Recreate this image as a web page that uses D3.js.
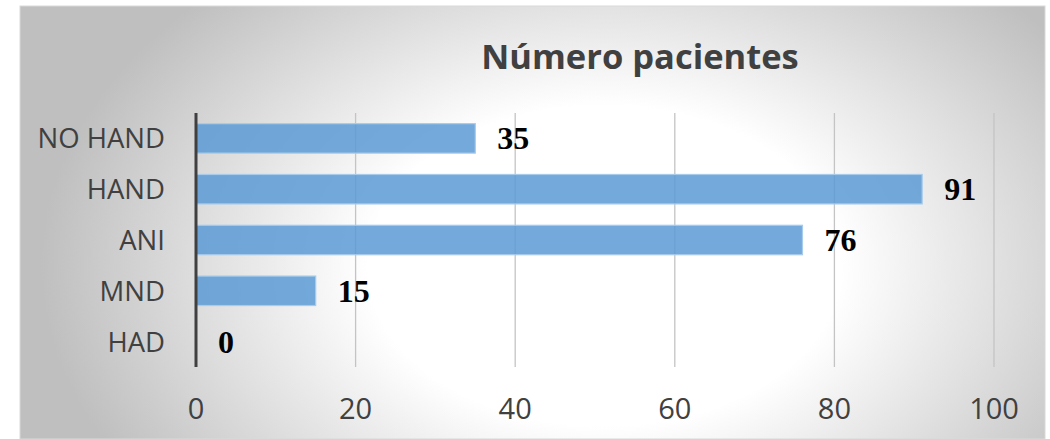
<!DOCTYPE html>
<html>
<head>
<meta charset="utf-8">
<script src="https://cdn.jsdelivr.net/npm/d3@7"></script>
<style>
  html, body { margin: 0; padding: 0; background: #ffffff; }
  svg { display: block; }
</style>
</head>
<body>
<svg id="chart" width="1050" height="439"></svg>
<script>
const categories = ["NO HAND", "HAND", "ANI", "MND", "HAD"];
const values = [35, 91, 76, 15, 0];
const xTicks = [0, 20, 40, 60, 80, 100];
const chartTitle = "Número pacientes";

const W = 1050, H = 439;
const svg = d3.select("#chart");

// background panel with radial gradient
const defs = svg.append("defs");
const grad = defs.append("radialGradient")
  .attr("id", "bg")
  .attr("cx", 0.57).attr("cy", 0.6).attr("r", 0.55)
  .attr("gradientTransform", "translate(0.57,0.6) scale(1,1.6) translate(-0.57,-0.6)");
grad.append("stop").attr("offset", 0).attr("stop-color", "#ffffff");
grad.append("stop").attr("offset", 0.42).attr("stop-color", "#ffffff");
grad.append("stop").attr("offset", 1).attr("stop-color", "#bfbfbf");

const panel = { x: 20, y: 6, w: 1025, h: 433 };
svg.append("rect")
  .attr("x", panel.x).attr("y", panel.y)
  .attr("width", panel.w).attr("height", panel.h)
  .attr("fill", "url(#bg)")
  .attr("stroke", "#d9d9d9").attr("stroke-width", 1);

// plot area
const plot = { left: 196, right: 994, top: 113, bottom: 367 };

const x = d3.scaleLinear().domain([0, 100]).range([plot.left, plot.right]);
const y = d3.scaleBand().domain(categories)
  .range([plot.top, plot.bottom])
  .paddingInner(0.42).paddingOuter(0.21);

// gridlines
svg.append("g").selectAll("line")
  .data(xTicks.filter(d => d !== 0))
  .join("line")
  .attr("x1", d => x(d)).attr("x2", d => x(d))
  .attr("y1", plot.top).attr("y2", plot.bottom)
  .attr("stroke", "#c4c4c4").attr("stroke-width", 1.3);

// bars
svg.append("g").selectAll("rect")
  .data(values)
  .join("rect")
  .attr("x", x(0))
  .attr("y", (d, i) => y(categories[i]))
  .attr("width", d => Math.max(0, x(d) - x(0)))
  .attr("height", y.bandwidth())
  .attr("fill", "#5B9BD5")
  .attr("fill-opacity", 0.85)
  .attr("stroke", "#a8cbec")
  .attr("stroke-width", d => d > 0 ? 1.2 : 0);

// vertical axis line
svg.append("line")
  .attr("x1", x(0)).attr("x2", x(0))
  .attr("y1", plot.top).attr("y2", plot.bottom)
  .attr("stroke", "#404040").attr("stroke-width", 3);

// category labels
svg.append("g").selectAll("text")
  .data(categories)
  .join("text")
  .attr("x", x(0) - 31)
  .attr("y", d => y(d) + y.bandwidth() / 2 + 10)
  .attr("text-anchor", "end")
  .attr("font-family", "'Open Sans', sans-serif")
  .attr("font-size", 27.5)
  .attr("fill", "#404040")
  .text(d => d);

// x tick labels
svg.append("g").selectAll("text")
  .data(xTicks)
  .join("text")
  .attr("x", d => x(d))
  .attr("y", 419)
  .attr("text-anchor", "middle")
  .attr("font-family", "'Open Sans', sans-serif")
  .attr("font-size", 29)
  .attr("fill", "#404040")
  .text(d => d);

// value labels
svg.append("g").selectAll("text")
  .data(values)
  .join("text")
  .attr("x", d => x(d) + 22)
  .attr("y", (d, i) => y(categories[i]) + y.bandwidth() / 2 + 11)
  .attr("font-family", "'Liberation Serif', 'Times New Roman', serif")
  .attr("font-weight", "bold")
  .attr("font-size", 32)
  .attr("fill", "#000000")
  .text(d => d);

// title
svg.append("text")
  .attr("x", 640).attr("y", 69)
  .attr("text-anchor", "middle")
  .attr("font-family", "'Open Sans', sans-serif")
  .attr("font-weight", "bold")
  .attr("font-size", 34.5)
  .attr("fill", "#404040")
  .text(chartTitle);
</script>
</body>
</html>
